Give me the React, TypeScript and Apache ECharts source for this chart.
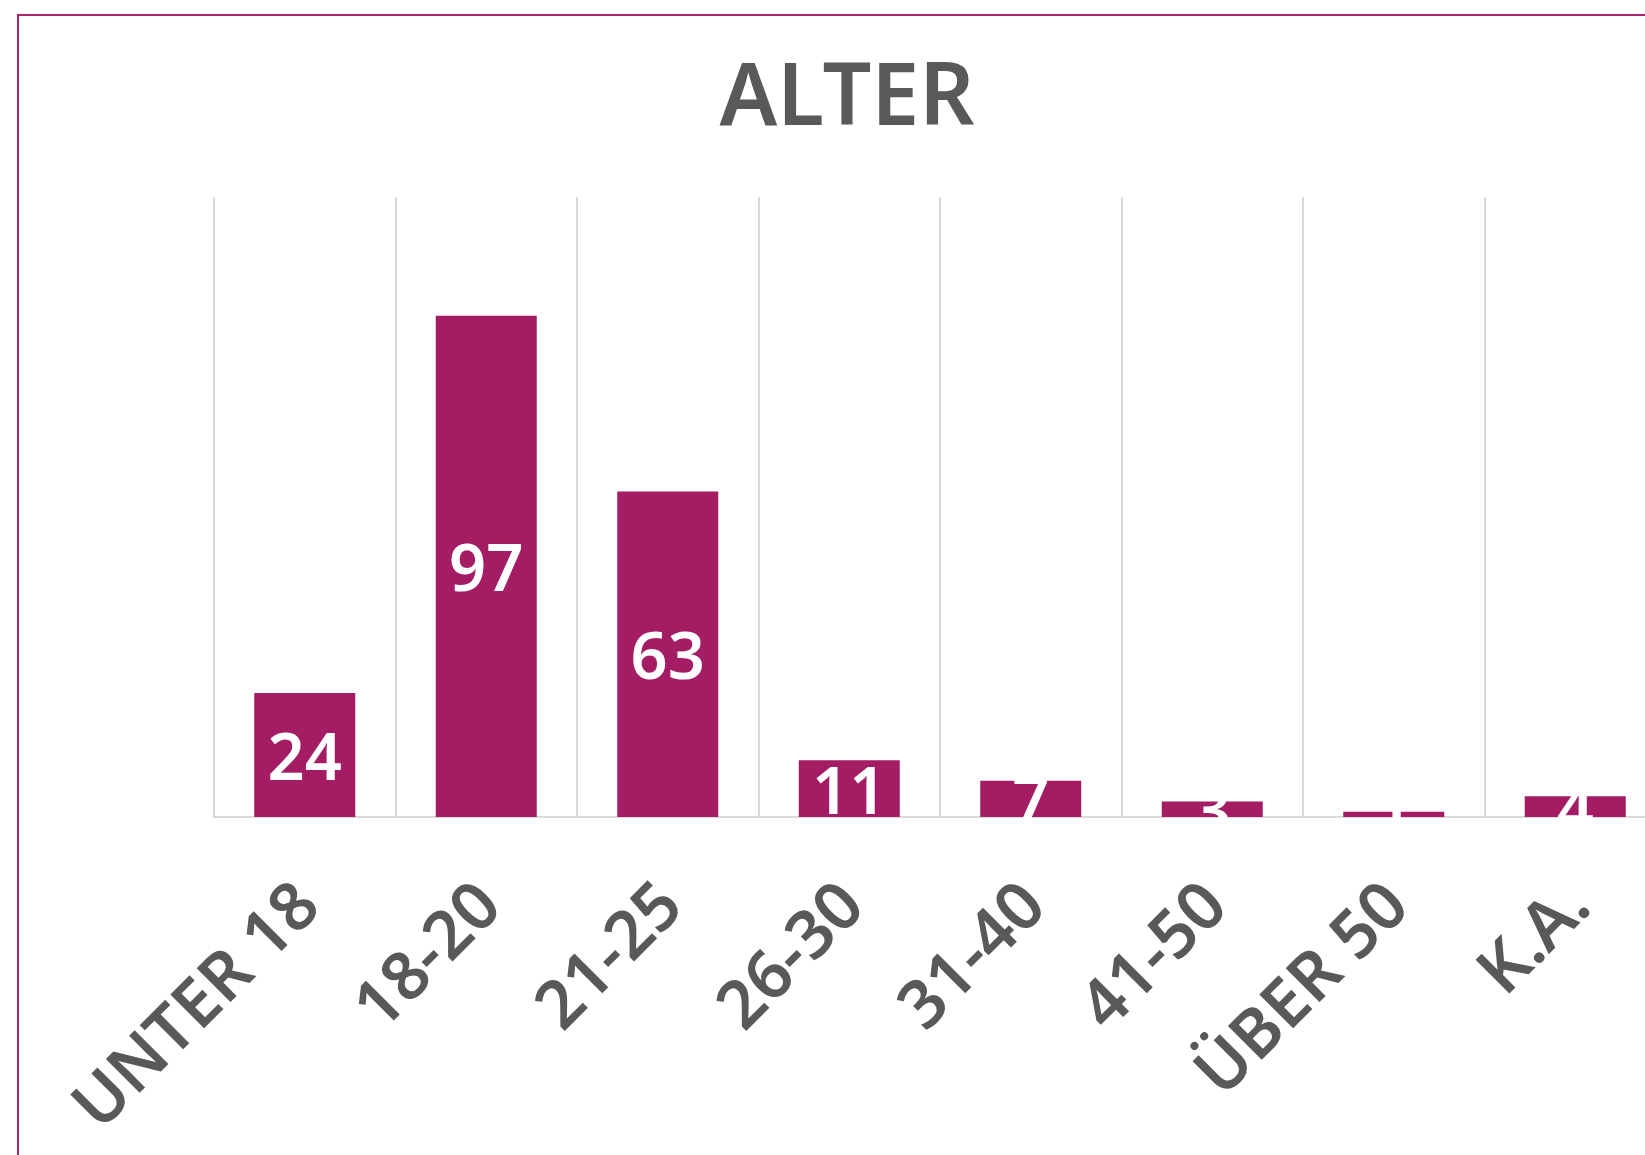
import React, { useEffect, useRef } from "react";
import * as echarts from "echarts";

const categories = ["UNTER 18", "18-20", "21-25", "26-30", "31-40", "41-50", "ÜBER 50", "K.A."];
const values = [24, 97, 63, 11, 7, 3, 1, 4];
const titleText = "ALTER";

const FONT = "'Noto Sans', 'Open Sans', sans-serif";

export default function App() {
  const ref = useRef<HTMLDivElement>(null);
  useEffect(() => {
    if (!ref.current) return;
    const chart = echarts.init(ref.current, undefined, { renderer: "svg" });
    chart.setOption({
      animation: false,
      backgroundColor: "#ffffff",
      title: {
        text: titleText,
        left: 842,
        top: 43,
        textAlign: "center",
        textStyle: { fontFamily: FONT, fontSize: 86, fontWeight: 600, color: "#595959" },
      },
      graphic: [
        {
          type: "rect",
          shape: { x: 18, y: 15, width: 1900, height: 1400 },
          style: { fill: "none", stroke: "#B0246C", lineWidth: 2 },
          silent: true,
        },
      ],
      grid: { left: 214, top: 197, width: 1452, height: 620, containLabel: false },
      xAxis: {
        type: "category",
        data: categories,
        boundaryGap: true,
        axisLine: { show: true, lineStyle: { color: "#D9D9D9", width: 2 } },
        axisTick: { show: false },
        splitLine: { show: true, lineStyle: { color: "#D9D9D9", width: 2 } },
        axisLabel: {
          rotate: 45,
          interval: 0,
          margin: 74,
          fontFamily: FONT,
          fontSize: 67,
          fontWeight: 600,
          color: "#595959",
        },
      },
      yAxis: {
        type: "value",
        min: 0,
        max: 120,
        show: false,
        splitLine: { show: false },
      },
      series: [
        {
          type: "bar",
          data: values,
          barWidth: 101,
          itemStyle: { color: "#A31C64" },
          label: {
            show: true,
            position: "inside",
            color: "#ffffff",
            fontFamily: FONT,
            fontSize: 65,
            fontWeight: 600,
          },
        },
      ],
    });
    return () => chart.dispose();
  }, []);
  return (
    <div style={{ position: "fixed", left: 0, top: 0, width: 1645, height: 1155, overflow: "hidden", background: "#fff" }}>
      <div ref={ref} style={{ width: 1720, height: 1155 }} />
    </div>
  );
}
